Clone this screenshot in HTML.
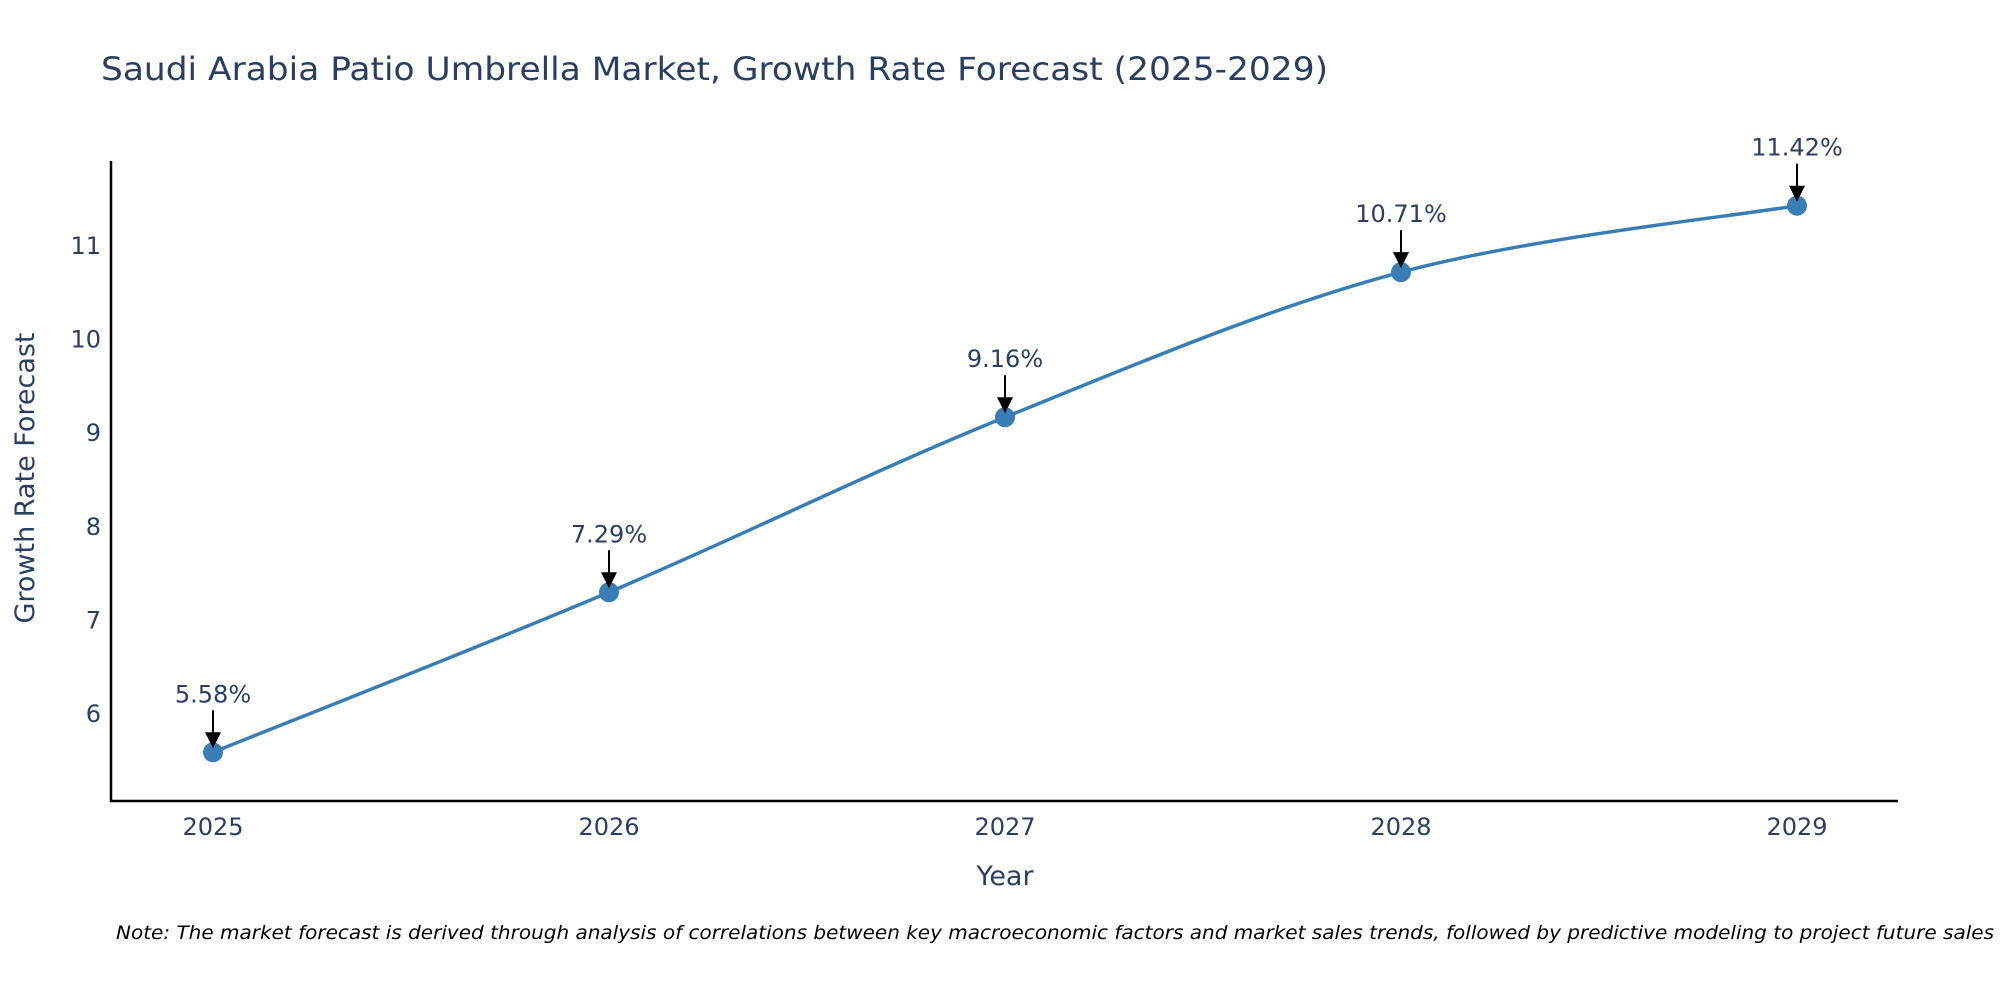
<!DOCTYPE html>
<html><head><meta charset="utf-8"><style>
html,body{margin:0;padding:0;background:#fff;}
svg{display:block;font-family:"DejaVu Sans","Liberation Sans",sans-serif;}
</style></head><body>
<svg id="chart" width="2000" height="1000" viewBox="0 0 2000 1000">
<rect width="2000" height="1000" fill="#fff"/>
<text x="101" y="80" font-size="32" fill="#2a3f5f" textLength="1227" lengthAdjust="spacingAndGlyphs">Saudi Arabia Patio Umbrella Market, Growth Rate Forecast (2025-2029)</text>
<g id="yticks"></g>
<g id="xticks"></g>
<line x1="111" y1="161" x2="111" y2="802" stroke="#000" stroke-width="2.5"/>
<line x1="110" y1="801" x2="1898" y2="801" stroke="#000" stroke-width="2.5"/>
<path id="series" fill="none" stroke="#3a7db5" stroke-width="3.5"/>
<g id="marks"></g>
<g id="annots"></g>
<text x="1005" y="885" font-size="27" fill="#2a3f5f" text-anchor="middle">Year</text>
<text transform="translate(34,478) rotate(-90)" font-size="27" fill="#2a3f5f" text-anchor="middle">Growth Rate Forecast</text>
<text x="116" y="939" font-size="19" font-style="italic" fill="#000" textLength="1878" lengthAdjust="spacingAndGlyphs">Note: The market forecast is derived through analysis of correlations between key macroeconomic factors and market sales trends, followed by predictive modeling to project future sales</text>
</svg>
<script>
const years = ["2025","2026","2027","2028","2029"];
const growth = [5.58, 7.29, 9.16, 10.71, 11.42];
const yTickValues = [6, 7, 8, 9, 10, 11];

const NS = "http://www.w3.org/2000/svg";
function xPos(i){ return 213 + i * (1797 - 213) / 4; }
function yPos(v){ return 245 + (11 - v) * 93.6; }
function mk(tag, attrs, parent){ const e = document.createElementNS(NS, tag); for (const k in attrs) e.setAttribute(k, attrs[k]); parent.appendChild(e); return e; }

const yt = document.getElementById("yticks");
yTickValues.forEach(v => {
  const t = mk("text", {x: 101, y: yPos(v) + 9, "font-size": 24, fill: "#2a3f5f", "text-anchor": "end"}, yt);
  
  
  t.textContent = v;
});
const xt = document.getElementById("xticks");
years.forEach((y, i) => {
  const t = mk("text", {x: xPos(i), y: 835, "font-size": 24, fill: "#2a3f5f", "text-anchor": "middle"}, xt);
  
  
  t.textContent = y;
});

const pts = growth.map((v, i) => [xPos(i), yPos(v)]);
let d = "M" + pts[0][0] + "," + pts[0][1];
for (let i = 0; i < pts.length - 1; i++) {
  const p0 = pts[Math.max(0, i - 1)], p1 = pts[i], p2 = pts[i + 1], p3 = pts[Math.min(pts.length - 1, i + 2)];
  const t = 1 / 3;
  const c1 = [p1[0] + (p2[0] - p0[0]) * t / 2, p1[1] + (p2[1] - p0[1]) * t / 2];
  const c2 = [p2[0] - (p3[0] - p1[0]) * t / 2, p2[1] - (p3[1] - p1[1]) * t / 2];
  d += " C" + c1.join(",") + " " + c2.join(",") + " " + p2.join(",");
}
document.getElementById("series").setAttribute("d", d);

const mg = document.getElementById("marks");
const ag = document.getElementById("annots");
pts.forEach((p, i) => {
  const c = mk("circle", {cx: p[0], cy: p[1], r: 10, fill: "#3a7db5"}, mg);
  
  
  const l = mk("line", {x1: p[0], y1: p[1] - 42, x2: p[0], y2: p[1] - 18, stroke: "#000", "stroke-width": 2}, ag);
  
  
  const h = mk("polygon", {points: (p[0]-8)+","+(p[1]-20)+" "+(p[0]+8)+","+(p[1]-20)+" "+p[0]+","+(p[1]-4), fill: "#000"}, ag);
  
  
  const t = mk("text", {x: p[0], y: p[1] - 50, "font-size": 24, fill: "#2a3f5f", "text-anchor": "middle"}, ag);
  
  
  t.textContent = growth[i].toFixed(2) + "%";
});
</script>
</body></html>
